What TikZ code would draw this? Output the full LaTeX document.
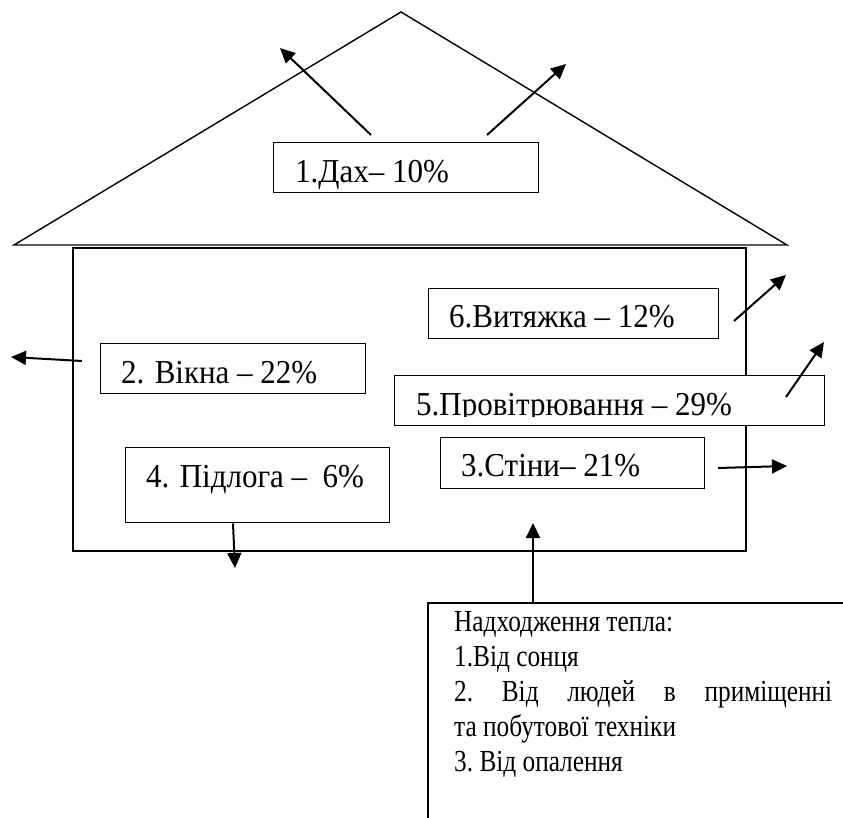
\documentclass[tikz,border=0pt]{standalone}
\usepackage{fontspec}
\usepackage{graphicx}
\setmainfont{Liberation Serif}
\usetikzlibrary{arrows.meta}
\newcommand{\tall}[2][1.08]{\scalebox{1}[#1]{#2}}

\begin{document}
\begin{tikzpicture}[x=1pt, y=-1pt,
    wall/.style={line width=1.4pt},
    lossbox/.style={draw, line width=1.4pt, fill=white, anchor=north west, inner sep=0pt},
    losslabel/.style={anchor=base west, inner sep=0pt, font=\fontsize{31}{36}\selectfont},
    heatflow/.style={-{Triangle[length=15pt, width=14pt]}, line width=2pt}]
    \useasboundingbox (0,0) rectangle (843,818);

    \draw[wall] (14,245) -- (401,12) -- (787,245) -- cycle;
    \draw[wall] (73,248) rectangle (746,551);

    \node[lossbox, minimum width=265pt, minimum height=50pt] (roofbox) at (273,142) {};
    \node[losslabel] (rooflabel) at (295,183) {\tall{1.Дах– 10\%}};

    \node[lossbox, minimum width=290pt, minimum height=50pt] (hoodbox) at (428,288) {};
    \node[losslabel] (hoodlabel) at (449,327) {\tall{6.Витяжка – 12\%}};

    \node[lossbox, minimum width=265pt, minimum height=50pt] (winbox) at (100,343) {};
    \node[losslabel] (winlabel) at (121,383) {\tall{2. Вікна – 22\%}};

    \node[lossbox, minimum width=430pt, minimum height=50pt] (airbox) at (394,375) {};
    \begin{scope}
        \clip (394,375) rectangle (824,416);
        \node[losslabel] (airlabel) at (416,415) {\tall{5.Провітрювання – 29\%}};
    \end{scope}

    \node[lossbox, minimum width=264pt, minimum height=51pt] (wallbox) at (440,437) {};
    \node[losslabel] (walllabel) at (461,476) {\tall{3.Стіни– 21\%}};

    \node[lossbox, minimum width=264pt, minimum height=75pt] (floorbox) at (125,447) {};
    \node[losslabel] (floorlabel) at (146,487) {\tall{4. Підлога –\ \ 6\%}};

    % heat gains
    \draw[wall] (428,818) -- (428,603) -- (843,603);
    \node[anchor=base west, inner sep=0pt,
          font=\frenchspacing\fontsize{25.3}{29.1}\selectfont] (gainlabel) at (454,631)
        {\tall[1.21]{\begin{tabular}[t]{@{}l@{}}
            Надходження тепла:\\
            1.Від сонця\\
            \makebox[378pt][s]{2. Від людей в приміщенні}\\
            та побутової техніки\\
            3. Від опалення
        \end{tabular}}};

    \coordinate (roofA) at (371,135);  \coordinate (roofAend) at (280,48);
    \coordinate (roofB) at (487,135);  \coordinate (roofBend) at (566,64);
    \coordinate (hoodA) at (734,321);  \coordinate (hoodend) at (786,275);
    \coordinate (winA) at (82,361);    \coordinate (winend) at (11,357);
    \coordinate (airA) at (786,397);   \coordinate (airend) at (824,342);
    \coordinate (wallA) at (718,468);  \coordinate (wallend) at (787,466);
    \coordinate (floorend) at (235,568);
    \coordinate (gaintop) at (533,603); \coordinate (gainend) at (533,523);

    \draw[heatflow] (roofA) -- (roofAend);
    \draw[heatflow] (roofB) -- (roofBend);
    \draw[heatflow] (hoodA) -- (hoodend);
    \draw[heatflow] (winA) -- (winend);
    \draw[heatflow] (airA) -- (airend);
    \draw[heatflow] (wallA) -- (wallend);
    \draw[heatflow] (floorbox.south west) ++(108,0) -- (floorend);
    \draw[heatflow] (gaintop) -- (gainend);
\end{tikzpicture}
\end{document}
